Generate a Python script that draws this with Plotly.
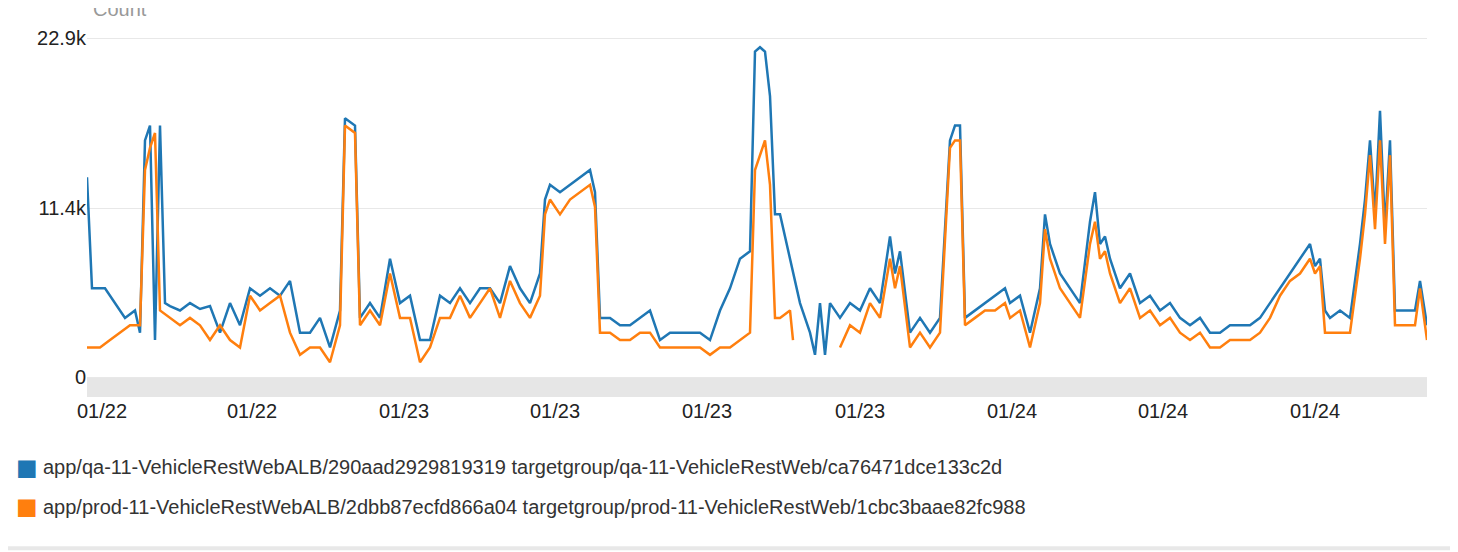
import plotly.graph_objects as go

# sample times (arbitrary time units across the window) and counts in thousands
qa_t = [0, 5, 18, 28, 38, 48, 53, 58, 63, 68, 73, 78, 83, 93, 103, 113, 123, 133, 143, 153, 163, 173, 183, 193, 203, 213, 223, 233, 243, 253, 258, 268, 273, 283, 293, 303, 313, 323, 333, 343, 353, 363, 373, 383, 393, 403, 413, 423, 433, 443, 453, 458, 463, 473, 483, 493, 503, 508, 513, 523, 533, 543, 553, 563, 573, 583, 593, 603, 613, 623, 633, 643, 653, 663, 668, 673, 678, 683, 688, 693, 703, 713, 723, 728, 733, 738, 743, 753, 763, 773, 783, 793, 803, 808, 813, 823, 833, 843, 853, 863, 868, 873, 878, 888, 898, 908, 918, 923, 933, 943, 953, 958, 963, 973, 983, 993, 1003, 1008, 1013, 1018, 1023, 1033, 1043, 1053, 1063, 1073, 1083, 1093, 1103, 1113, 1123, 1133, 1143, 1153, 1163, 1173, 1183, 1193, 1203, 1213, 1223, 1228, 1233, 1238, 1243, 1253, 1263, 1273, 1278, 1283, 1288, 1293, 1298, 1303, 1308, 1318, 1328, 1333, 1340]
qa_k = [13.5, 6, 6, 5, 4, 4.5, 3, 16, 17, 2.5, 17, 5, 4.8, 4.5, 5, 4.6, 4.8, 3, 5, 3.5, 6, 5.5, 6, 5.5, 6.5, 3, 3, 4, 2, 4.5, 17.5, 17, 4, 5, 4, 8, 5, 5.5, 2.5, 2.5, 5.5, 5, 6, 5, 6, 6, 5, 7.5, 6, 5, 7, 12, 13, 12.5, 13, 13.5, 14, 12.5, 4, 4, 3.5, 3.5, 4, 4.5, 2.5, 3, 3, 3, 3, 2.5, 4.5, 6, 8, 8.5, 22, 22.3, 22, 19, 11, 11, 8, 5, 3, 1.5, 5, 1.5, 5, 4, 5, 4.5, 6, 5, 9.5, 7, 8.5, 3, 4, 3, 4, 16, 17, 17, 4, 4.5, 5, 5.5, 6, 5, 5.5, 3, 6, 11, 9, 7, 6, 5, 10.5, 12.5, 9, 9.5, 8, 6, 7, 5, 5.5, 4.5, 5, 4, 3.5, 4, 3, 3, 3.5, 3.5, 3.5, 4, 5, 6, 7, 8, 9, 7.5, 8, 4.5, 4, 4.5, 4, 9, 12, 16, 11, 18, 10, 16, 4.5, 4.5, 4.5, 6.5, 3.5]

prod_t = [0, 13, 23, 33, 43, 53, 58, 63, 68, 73, 83, 93, 103, 113, 123, 133, 143, 153, 163, 173, 183, 193, 203, 213, 223, 233, 243, 253, 258, 268, 273, 283, 293, 303, 313, 323, 333, 343, 353, 363, 373, 383, 393, 403, 413, 423, 433, 443, 453, 458, 463, 473, 483, 493, 503, 508, 513, 523, 533, 543, 553, 563, 573, 583, 593, 603, 613, 623, 633, 643, 653, 663, 668, 673, 678, 683, 688, 693, 703, 706, 748, 753, 763, 773, 783, 793, 803, 808, 813, 823, 833, 843, 853, 863, 868, 873, 878, 888, 898, 908, 918, 923, 933, 943, 953, 958, 963, 973, 983, 993, 1003, 1008, 1013, 1018, 1023, 1033, 1043, 1053, 1063, 1073, 1083, 1093, 1103, 1113, 1123, 1133, 1143, 1153, 1163, 1173, 1183, 1193, 1203, 1213, 1223, 1228, 1233, 1238, 1243, 1253, 1263, 1273, 1278, 1283, 1288, 1293, 1298, 1303, 1308, 1318, 1328, 1333, 1340]
prod_k = [2, 2, 2.5, 3, 3.5, 3.5, 14, 15.5, 16.5, 4.5, 4, 3.5, 4, 3.5, 2.5, 3.5, 2.5, 2, 5.5, 4.5, 5, 5.5, 3, 1.5, 2, 2, 1, 3.5, 17, 16.5, 3.5, 4.5, 3.5, 7, 4, 4, 1, 2, 4, 4, 5.5, 4, 5, 6, 4, 6.5, 5, 4, 5.5, 11, 12, 11, 12, 12.5, 13, 11.5, 3, 3, 2.5, 2.5, 3, 3, 2, 2, 2, 2, 2, 1.5, 2, 2, 2.5, 3, 14, 15, 16, 13, 4, 4, 4.5, 2.5, None, 2, 3.5, 3, 5, 4, 8, 6, 7.5, 2, 3, 2, 3, 15.5, 16, 16, 3.5, 4, 4.5, 4.5, 5, 4, 4.5, 2, 5, 10, 8, 6, 5, 4, 9, 10.5, 8, 8.5, 7, 5, 6, 4, 4.5, 3.5, 4, 3, 2.5, 3, 2, 2, 2.5, 2.5, 2.5, 3, 4, 5.5, 6.5, 7, 8, 7, 7.5, 3, 3, 3, 3, 8, 11, 15, 10, 16, 9, 15, 3.5, 3.5, 3.5, 6, 2.5]

tick_t = [15, 165, 317, 468, 620, 773, 925, 1076, 1228]
tick_text = ["01/22", "01/22", "01/23", "01/23", "01/23", "01/23", "01/24", "01/24", "01/24"]
y_ticks = [0, 11.4, 22.9]
y_text = ["0", "11.4k", "22.9k"]

names = ["app/qa-11-VehicleRestWebALB/290aad2929819319 targetgroup/qa-11-VehicleRestWeb/ca76471dce133c2d",
         "app/prod-11-VehicleRestWebALB/2dbb87ecfd866a04 targetgroup/prod-11-VehicleRestWeb/1cbc3baae82fc988"]
colors = ["#1f77b4", "#ff7f0e"]

fig = go.Figure()
fig.add_trace(go.Scatter(x=qa_t, y=qa_k, mode="lines", line=dict(color=colors[0], width=2.5), name=names[0]))
fig.add_trace(go.Scatter(x=prod_t, y=prod_k, mode="lines", line=dict(color=colors[1], width=2.5), name=names[1]))

# grey band under zero line
fig.add_shape(type="rect", xref="paper", x0=0, x1=1, y0=-1.35, y1=0, fillcolor="#e6e6e6", line_width=0, layer="below")
fig.add_shape(type="line", xref="paper", yref="paper", x0=-0.06, x1=1.03, y0=-0.41, y1=-0.41, line=dict(color="#e8e8e8", width=4))

for i, (nm, c) in enumerate(zip(names, colors)):
    yy = -0.19 - i * 0.108
    fig.add_annotation(xref="paper", yref="paper", x=-0.0545, y=yy, text="■", showarrow=False,
                       font=dict(size=36, color=c), xanchor="left", yanchor="middle")
    fig.add_annotation(xref="paper", yref="paper", x=-0.034, y=yy, text=nm, showarrow=False,
                       font=dict(size=20, color="#333"), xanchor="left", yanchor="middle")

fig.add_annotation(xref="paper", yref="paper", x=0.003, y=1.015, text="Count", showarrow=False,
                   font=dict(size=20, color="#999"), xanchor="left", yanchor="bottom")

fig.update_layout(
    width=1458, height=552, margin=dict(l=79, r=39, t=20, b=163),
    plot_bgcolor="white", paper_bgcolor="white", showlegend=False,
    font=dict(family="Liberation Sans, Arial", size=20, color="#222"),
    xaxis=dict(range=[0, 1340], tickvals=tick_t, ticktext=tick_text, showgrid=False, zeroline=False,
               ticks="", tickfont=dict(size=20)),
    yaxis=dict(range=[-1.35, 23.6], tickvals=y_ticks, ticktext=y_text, showgrid=True, gridcolor="#e8e8e8",
               zeroline=False, tickfont=dict(size=20)),
)
fig.write_html("out.html")
